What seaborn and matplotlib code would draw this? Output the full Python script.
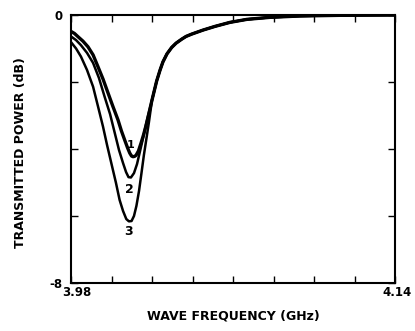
import numpy as np
import pandas as pd
import matplotlib
matplotlib.use("Agg")
import matplotlib.pyplot as plt
import matplotlib.transforms as mtransforms
import seaborn as sns

# values (GHz, dB)
# left flank + dip of each curve, the right flanks merge into one shared tail
freq_1 = [3.9800, 3.9817, 3.9835, 3.9859, 3.9884, 3.9909, 3.9933, 3.9958,
          3.9983, 4.0007, 4.0032, 4.0049, 4.0065, 4.0079, 4.0090, 4.0099,
          4.0106, 4.0114, 4.0121, 4.0133, 4.0146, 4.0158, 4.0170, 4.0185]
power_1 = [-0.49, -0.55, -0.65, -0.78, -0.95, -1.19, -1.54, -1.91,
           -2.33, -2.73, -3.13, -3.46, -3.73, -3.96, -4.12, -4.21,
           -4.23, -4.22, -4.19, -4.06, -3.82, -3.58, -3.31, -2.93]

freq_2 = [3.9800, 3.9825, 3.9849, 3.9879, 3.9909, 3.9938, 3.9966, 3.9993,
          4.0016, 4.0037, 4.0057, 4.0072, 4.0084, 4.0096, 4.0111, 4.0126,
          4.0141, 4.0156, 4.0170, 4.0185]
power_2 = [-0.64, -0.75, -0.90, -1.13, -1.43, -1.88, -2.44, -2.96,
           -3.52, -4.03, -4.42, -4.69, -4.84, -4.85, -4.72, -4.45,
           -4.06, -3.67, -3.28, -2.90]

freq_3 = [3.9800, 3.9825, 3.9849, 3.9879, 3.9909, 3.9933, 3.9958, 3.9978,
          3.9999, 4.0022, 4.0040, 4.0057, 4.0073, 4.0086, 4.0099, 4.0111,
          4.0123, 4.0136, 4.0148, 4.0160, 4.0173, 4.0185]
power_3 = [-0.81, -1.00, -1.24, -1.64, -2.14, -2.72, -3.33, -3.88,
           -4.42, -5.01, -5.52, -5.85, -6.09, -6.16, -6.15, -6.00,
           -5.70, -5.25, -4.72, -4.18, -3.67, -3.19]

# shared tail on the high-frequency side
freq_tail = [4.0200, 4.0223, 4.0240, 4.0254, 4.0274, 4.0297, 4.0319, 4.0347,
             4.0368, 4.0396, 4.0452, 4.0511, 4.0585, 4.0669, 4.0783, 4.0931,
             4.1128, 4.1400]
power_tail = [-2.54, -1.97, -1.64, -1.40, -1.16, -0.97, -0.84, -0.72,
              -0.64, -0.57, -0.45, -0.34, -0.22, -0.13, -0.07, -0.03,
              -0.01, 0.00]

curve_names = ["1", "2", "3"]
curve_widths = [2.4, 1.8, 1.8]

x_ticks = [3.98, 4.00, 4.02, 4.04, 4.06, 4.08, 4.10, 4.12, 4.14]
x_tick_labels = ["3.98", "", "", "", "", "", "", "", "4.14"]
y_ticks = [0, -2, -4, -6, -8]
y_tick_labels = ["0", "", "", "", "-8"]

# where the curve numbers sit next to each dip
label_pos = [(4.0095, -3.88), (4.0088, -5.20), (4.0083, -6.45)]


def build_frame():
    rows = []
    for name, f, p in zip(curve_names, [freq_1, freq_2, freq_3],
                          [power_1, power_2, power_3]):
        for fx, px in zip(f + freq_tail, p + power_tail):
            rows.append({"freq": fx, "power": px, "curve": name})
    return pd.DataFrame(rows)


def main():
    sns.set_style("ticks")
    plt.rcParams["font.family"] = ["DejaVu Sans"]
    plt.rcParams["font.weight"] = "bold"
    # seaborn greys out text, the scan is plain black
    for key in ["text.color", "axes.labelcolor", "xtick.color", "ytick.color"]:
        plt.rcParams[key] = "black"

    df = build_frame()

    fig = plt.figure(figsize=(4.15, 3.31), dpi=100)
    ax = fig.add_axes([71 / 415, 1 - 283 / 331, 324 / 415, 268 / 331])

    for name, lw in zip(curve_names, curve_widths):
        sns.lineplot(data=df[df["curve"] == name], x="freq", y="power",
                     sort=False, color="black", linewidth=lw, ax=ax,
                     legend=False)

    for name, (fx, py), size in zip(curve_names, label_pos, [8, 9, 9]):
        ax.text(fx, py, name, ha="center", va="center", fontsize=size,
                fontweight="bold", color="black")

    ax.set_xlim(3.98, 4.14)
    ax.set_ylim(-8, 0)
    ax.set_xticks(x_ticks)
    ax.set_xticklabels(x_tick_labels, fontsize=8.5, fontweight="bold")
    ax.set_yticks(y_ticks)
    ax.set_yticklabels(y_tick_labels, fontsize=8.5, fontweight="bold")
    ax.tick_params(direction="in", length=5, width=1, top=True, right=True,
                   color="black")
    ax.tick_params(axis="x", pad=2.5)
    ax.tick_params(axis="y", pad=6)

    # the end labels sit a little inside the axis corners in the original
    labels = ax.get_xticklabels()
    labels[0].set_transform(labels[0].get_transform() +
                            mtransforms.ScaledTranslation(6 / 100, 0, fig.dpi_scale_trans))
    labels[-1].set_transform(labels[-1].get_transform() +
                             mtransforms.ScaledTranslation(2 / 100, 0, fig.dpi_scale_trans))

    for spine in ax.spines.values():
        spine.set_linewidth(1.5)
        spine.set_color("black")

    ax.set_xlabel("WAVE FREQUENCY (GHz)", fontsize=9, fontweight="bold")
    ax.set_ylabel("TRANSMITTED POWER (dB)", fontsize=9, fontweight="bold")
    ax.xaxis.set_label_coords(0.5, -0.10)
    ax.yaxis.set_label_coords(-0.136, 0.485)

    fig.savefig("out.png", dpi=100)


if __name__ == "__main__":
    main()
